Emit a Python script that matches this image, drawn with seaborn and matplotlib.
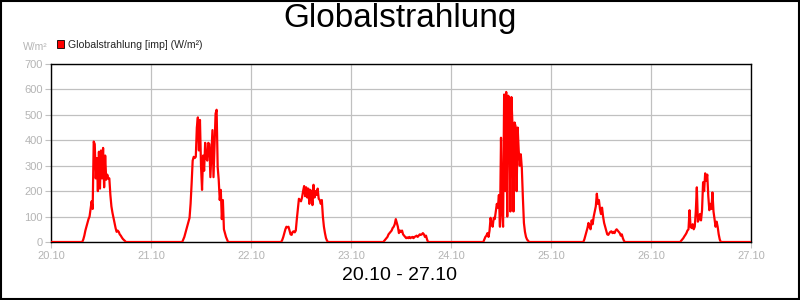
import numpy as np
import pandas as pd
import matplotlib
matplotlib.use("Agg")
import matplotlib.pyplot as plt
import matplotlib.dates as mdates
from matplotlib.patches import Rectangle, Patch
import seaborn as sns

# ---------------- data ----------------
title = "Globalstrahlung"
subtitle = "20.10 - 27.10"
series_label = "Globalstrahlung [imp] (W/m²)"
unit_label = "W/m²"
range_start = "2023-10-20 00:00"
range_end = "2023-10-27 00:00"
y_ticks = [0, 100, 200, 300, 400, 500, 600, 700]

# first sample of each day's daylight period (15-min sampling)
day_starts = ["2023-10-20 07:30", "2023-10-21 07:30", "2023-10-22 07:15",
              "2023-10-23 07:45", "2023-10-24 07:45", "2023-10-25 07:45",
              "2023-10-26 07:00"]

day1 = [0, 10, 25, 45, 60, 75, 90, 100, 130, 160, 130, 395, 385, 250, 330, 200,
        355, 210, 360, 250, 370, 215, 340, 245, 265, 250, 250, 185, 140, 115,
        95, 75, 55, 40, 45, 40, 30, 25, 18, 12, 8, 4, 0]
day2 = [0, 10, 20, 35, 50, 65, 80, 95, 150, 230, 320, 335, 330, 335, 450, 490,
        360, 480, 300, 205, 340, 280, 390, 330, 320, 390, 385, 255, 350, 440,
        255, 380, 505, 520, 295, 245, 165, 205, 90, 165, 50, 35, 20, 10, 0]
day3 = [0, 8, 20, 35, 50, 60, 58, 60, 45, 30, 28, 40, 42, 38, 45, 90, 130, 170,
        165, 160, 175, 200, 220, 180, 215, 175, 210, 150, 205, 190, 145, 225,
        175, 200, 185, 210, 170, 165, 150, 165, 100, 60, 35, 15, 5, 0]
day4 = [0, 5, 10, 15, 20, 30, 35, 40, 45, 55, 60, 70, 90, 75, 60, 35, 45, 40,
        45, 30, 25, 20, 15, 18, 15, 20, 15, 18, 20, 15, 20, 22, 25, 20, 25, 30,
        28, 30, 35, 30, 20, 25, 10, 0]
day5 = [0, 10, 20, 25, 35, 20, 45, 95, 70, 60, 95, 90, 120, 150, 135, 185, 60,
        410, 120, 60, 580, 200, 590, 100, 575, 560, 120, 570, 460, 120, 470, 455,
        200, 450, 360, 300, 345, 290, 175, 75, 40, 20, 10, 5, 0]
day6 = [0, 10, 25, 40, 55, 75, 60, 50, 85, 70, 100, 120, 140, 190, 150, 165,
        130, 110, 135, 100, 75, 60, 45, 30, 28, 35, 40, 42, 35, 40, 35, 45, 50,
        45, 40, 35, 25, 30, 15, 5, 0]
day7 = [0, 5, 10, 15, 22, 28, 35, 45, 50, 125, 60, 55, 70, 50, 60, 120, 215,
        80, 90, 110, 85, 125, 235, 200, 270, 240, 265, 180, 125, 150, 130, 195,
        120, 90, 60, 80, 60, 30, 10, 0]
day_values = [day1, day2, day3, day4, day5, day6, day7]

# build the series (night = 0)
idx = pd.date_range(range_start, range_end, freq="15min")
s = pd.Series(0.0, index=idx)
for start, vals in zip(day_starts, day_values):
    rng = pd.date_range(start, periods=len(vals), freq="15min")
    s.loc[rng] = vals
df = pd.DataFrame({"time": s.index, "value": s.values})

# ---------------- plot ----------------
sns.set_style("white")
plt.rcParams["font.family"] = ["Liberation Sans", "DejaVu Sans"]

fig = plt.figure(figsize=(8, 3), dpi=100)
fig.patch.set_facecolor("white")
ax = fig.add_axes([51 / 800, 58 / 300, 700 / 800, 178 / 300])

grid_c = "#c0c0c0"
tick_txt = "#b4b4b4"

sns.lineplot(data=df, x="time", y="value", ax=ax, color="#ff0000",
             linewidth=1.6, legend=False, zorder=3)

ax.set_xlim(pd.Timestamp(range_start), pd.Timestamp(range_end))
ax.set_ylim(0, 700)
ax.set_yticks(y_ticks)
ax.xaxis.set_major_locator(mdates.DayLocator())
ax.xaxis.set_major_formatter(mdates.DateFormatter("%d.%m"))
ax.set_xlabel("")
ax.set_ylabel("")

ax.grid(True, color=grid_c, linewidth=0.9, zorder=0)
ax.set_axisbelow(True)
for sp in ax.spines.values():
    sp.set_color("black")
    sp.set_linewidth(1.0)
ax.tick_params(axis="both", direction="out", length=4.5, width=0.8,
               color=grid_c, labelcolor=tick_txt, labelsize=8, left=True,
               bottom=True)
ax.tick_params(axis="y", pad=1.5)
ax.tick_params(axis="x", pad=2)

# title, subtitle, unit
fig.text(0.5, 1 - 19 / 300, title, ha="center", va="center", fontsize=24,
         color="black")
fig.text(0.5, 1 - 275 / 300, subtitle, ha="center", va="center", fontsize=14,
         color="black")
fig.text(35 / 800, 1 - 47 / 300, unit_label, ha="center", va="center",
         fontsize=7.5, color=tick_txt)

# legend
handle = Patch(facecolor="#ff0000", edgecolor="black", linewidth=0.6)
ax.legend(handles=[handle], labels=[series_label], loc="center left",
          bbox_to_anchor=(57 / 800, 1 - 44.5 / 300),
          bbox_transform=fig.transFigure, frameon=False, fontsize=7.6,
          handlelength=0.7, handleheight=0.7, handletextpad=0.35,
          borderaxespad=0, borderpad=0)

# figure border
fig.patches.append(Rectangle((0.001, 0.002), 0.998, 0.996,
                             transform=fig.transFigure, fill=False,
                             edgecolor="black", linewidth=1.5))

fig.savefig("out.png", dpi=100, facecolor="white")
